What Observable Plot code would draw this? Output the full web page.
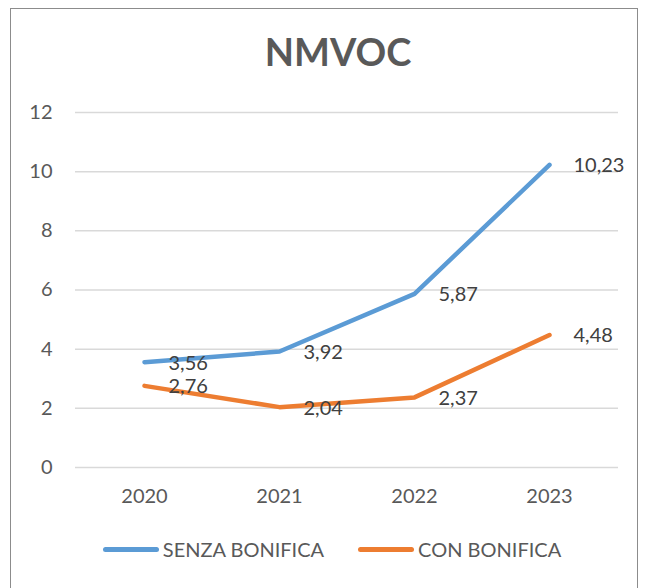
<!DOCTYPE html>
<html><head><meta charset="utf-8">
<script src="https://cdn.jsdelivr.net/npm/d3@7"></script>
<script src="https://cdn.jsdelivr.net/npm/@observablehq/plot@0.6"></script>
<style>
html,body{margin:0;padding:0;background:#fff;}
#wrap{position:relative;width:646px;height:588px;overflow:hidden;font-family:Lato,sans-serif;}
#frame{position:absolute;left:10px;top:8px;width:628px;height:600px;border:1.5px solid #8c8c8c;box-sizing:border-box;}
#title{position:absolute;left:15px;width:646px;top:28px;text-align:center;font-weight:bold;font-size:38px;color:#595959;}
#chart{position:absolute;left:0;top:0;}
#legend{position:absolute;top:537px;left:9px;width:646px;display:flex;justify-content:center;gap:34px;font-size:20px;color:#595959;}
.item{display:flex;align-items:center;}
.sw{width:56px;height:5px;border-radius:3px;margin-right:4px;}
</style></head>
<body><div id="wrap"><div id="frame"></div><div id="chart"></div><div id="title">NMVOC</div><div id="legend"></div></div>
<script>
const years = ["2020","2021","2022","2023"];
const senza = [3.56, 3.92, 5.87, 10.23];
const con = [2.76, 2.04, 2.37, 4.48];
const seriesNames = ["SENZA BONIFICA","CON BONIFICA"];
const colors = ["#5B9BD5","#ED7D31"];
const yTicks = [0,2,4,6,8,10,12];

const data = [];
years.forEach((y,i)=>{
  data.push({year:y, value:senza[i], series:seriesNames[0]});
  data.push({year:y, value:con[i], series:seriesNames[1]});
});
const fmt = v => v.toFixed(2).replace(".", ",");

const plot = Plot.plot({
  width: 646, height: 588,
  marginLeft: 75, marginRight: 28, marginTop: 112, marginBottom: 121,
  style: {fontFamily: "Lato, sans-serif", fontSize: "20px", color: "#595959", background: "transparent"},
  x: {type: "point", domain: years, padding: 0.5, label: null, tickSize: 0, tickPadding: 21},
  y: {domain: [0,12], ticks: yTicks, label: null, tickSize: 0, tickPadding: 23},
  color: {domain: seriesNames, range: colors},
  marks: [
    Plot.ruleY(yTicks, {stroke: "#d9d9d9", strokeWidth: 1.5}),
    Plot.line(data, {x: "year", y: "value", z: "series", stroke: "series", strokeWidth: 4.5, strokeLinecap: "round", strokeLinejoin: "round"}),
    Plot.text(data, {x: "year", y: "value", text: d => fmt(d.value), dx: 24, dy: 1, textAnchor: "start", fill: "#404040", fontSize: 20})
  ]
});
document.getElementById("chart").appendChild(plot);

const leg = document.getElementById("legend");
seriesNames.forEach((s,i)=>{
  const it = document.createElement("div"); it.className="item";
  const sw = document.createElement("div"); sw.className="sw"; sw.style.background=colors[i];
  const t = document.createElement("span"); t.textContent = s;
  it.appendChild(sw); it.appendChild(t); leg.appendChild(it);
});
</script></body></html>
